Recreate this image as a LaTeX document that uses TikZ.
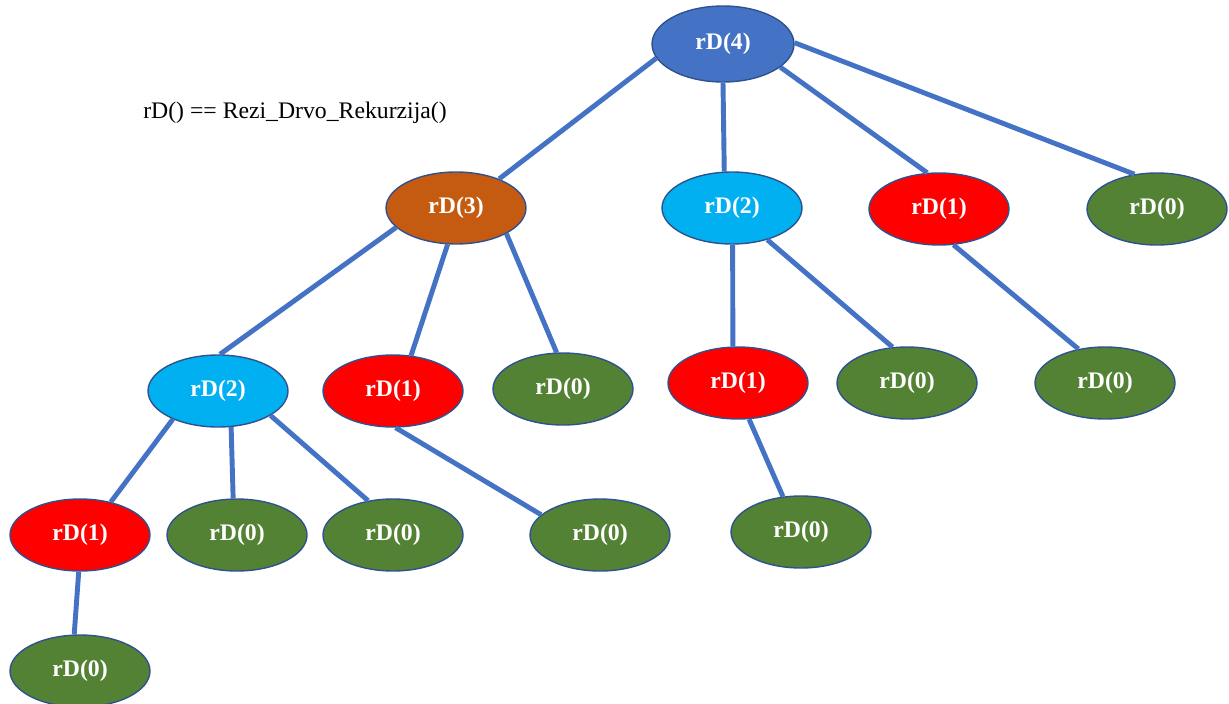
\documentclass[tikz,border=0pt]{standalone}
\usepackage{fontspec}
\setmainfont{Liberation Serif}
\usepackage{tikz}
\usetikzlibrary{shapes.geometric}

\definecolor{edgeblue}{HTML}{4472C4}
\definecolor{rimblue}{HTML}{2F528F}
\definecolor{cfour}{HTML}{4472C4}
\definecolor{cthree}{HTML}{C55A11}
\definecolor{ctwo}{HTML}{00B0F0}
\definecolor{cone}{HTML}{FF0000}
\definecolor{czero}{HTML}{548235}

\tikzset{
  call/.style={ellipse, draw=rimblue, line width=0.8pt, inner sep=0pt,
    minimum width=2.8cm, minimum height=1.44cm, text=white,
    font=\fontsize{13.5}{16}\selectfont\bfseries},
  edge/.style={draw=edgeblue, line width=2.8pt}
}

\begin{document}
\begin{tikzpicture}[x=0.02cm,y=-0.02cm]
\useasboundingbox (0,0) rectangle (1229,703);

% Caption
\node[font=\fontsize{13.5}{16}\selectfont] (cap) at (295,113) {rD() == Rezi\_Drvo\_Rekurzija()};

% Level 0
\node[call, fill=cfour, minimum width=2.84cm, minimum height=1.52cm] (R4) at (723,44) {rD(4)};

% Level 1
\node[call, fill=cthree] (R3) at (456,208) {rD(3)};
\node[call, fill=ctwo] (R2b) at (732,208) {rD(2)};
\node[call, fill=cone] (R1c) at (939,209) {rD(1)};
\node[call, fill=czero] (R0d) at (1157,209) {rD(0)};

% Level 2
\node[call, fill=ctwo] (R2a) at (218,391) {rD(2)};
\node[call, fill=cone] (R1b) at (393,391) {rD(1)};
\node[call, fill=czero] (R0c) at (563,389) {rD(0)};
\node[call, fill=cone] (R1d) at (738,383) {rD(1)};
\node[call, fill=czero] (R0e) at (907,383) {rD(0)};
\node[call, fill=czero] (R0f) at (1105,383) {rD(0)};

% Level 3
\node[call, fill=cone] (R1a) at (80,535) {rD(1)};
\node[call, fill=czero] (R0a) at (237,535) {rD(0)};
\node[call, fill=czero] (R0b) at (393,535) {rD(0)};
\node[call, fill=czero] (R0g) at (600,535) {rD(0)};
\node[call, fill=czero] (R0h) at (801,532) {rD(0)};

% Level 4
\node[call, fill=czero] (R0z) at (80,671) {rD(0)};

% Edges from rD(4)
\draw[edge] (R4.192) -- (R3.34);
\draw[edge] (R4.270) -- (R2b.102);
\draw[edge] (R4.338) -- (R1c.108);
\draw[edge] (R4.1) -- (R0d.123);

% Edges from rD(3)
\draw[edge] (R3.198) -- (R2a.87);
\draw[edge] (R3.257) -- (R1b.63);
\draw[edge] (R3.333) -- (R0c.100);

% Edges from the right branch
\draw[edge] (R2b.271) -- (R1d.98);
\draw[edge] (R2b.318) -- (R0e.112);
\draw[edge] (R1c.292) -- (R0f.128);
\draw[edge] (R1d.287) -- (R0h.117);

% Edges from rD(2) and rD(1) on the left
\draw[edge] (R2a.212) -- (R1a.47);
\draw[edge] (R2a.290) -- (R0a.96);
\draw[edge] (R2a.335) -- (R0b.126);
\draw[edge] (R1b.274) -- (R0g.161);
\draw[edge] (R1a.268) -- (R0z.99);

\end{tikzpicture}
\end{document}
